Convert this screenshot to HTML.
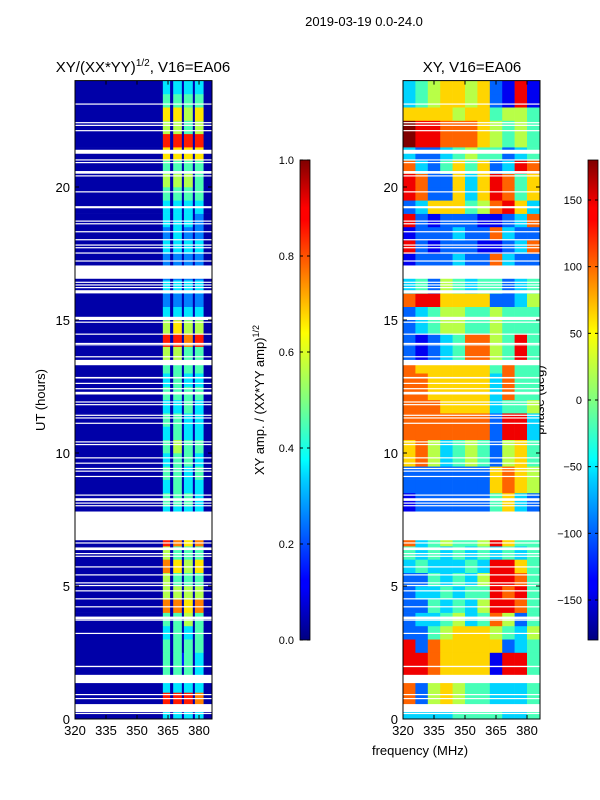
<!DOCTYPE html>
<html><head><meta charset="utf-8"><style>
body{margin:0;background:#fff;}
svg{display:block;font-family:"Liberation Sans","DejaVu Sans",sans-serif;}
</style></head><body>
<svg id="fig" width="600" height="800" viewBox="0 0 600 800">
<defs>
<linearGradient id="jet" x1="0" y1="1" x2="0" y2="0">
<stop offset="0" stop-color="#000080"/><stop offset="0.11" stop-color="#0000ff"/>
<stop offset="0.125" stop-color="#0000ff"/><stop offset="0.34" stop-color="#00d4ff"/>
<stop offset="0.375" stop-color="#00ffff"/><stop offset="0.5" stop-color="#80ff80"/>
<stop offset="0.64" stop-color="#ffff00"/><stop offset="0.875" stop-color="#ff0000"/>
<stop offset="0.9" stop-color="#ff0000"/><stop offset="1" stop-color="#800000"/>
</linearGradient>
</defs>
<text x="364" y="26" font-size="13" text-anchor="middle">2019-03-19 0.0-24.0</text>
<text x="143" y="72" font-size="15" text-anchor="middle">XY/(XX*YY)<tspan font-size="10" dy="-6">1/2</tspan><tspan dy="6">, V16=EA06</tspan></text>
<text x="472" y="72" font-size="15" text-anchor="middle">XY, V16=EA06</text>
<text transform="translate(45,400) rotate(-90)" font-size="13" text-anchor="middle">UT (hours)</text>
<text x="420" y="755" font-size="13" text-anchor="middle">frequency (MHz)</text>
<text transform="translate(264,400) rotate(-90)" font-size="13" text-anchor="middle">XY amp. / (XX*YY amp)<tspan font-size="9" dy="-5">1/2</tspan></text>
<text transform="translate(544,400) rotate(-90)" font-size="13" text-anchor="middle">phase (deg)</text>
<g id="layer"></g>
</svg>
<script>
// ---- data ----
const timeBinHours = 0.5;
const ampFreqEdges = [320, 362.5, 366, 367.5, 371.7, 372.7, 377, 378, 382.2, 386.3];
const phaseFreqEdges = [320, 326, 332, 338, 344, 350, 356, 362, 368, 374, 380, 386.3];
// amplitude rows (0h upward), digit d -> value d/10-0.05
const ampRows = [
"041414140","091919180","041414140","051515140","051525140","051515150","041514150","051516150",
"081817180","061616160","061515150","081716170","061515150","091817180","000000000","041414140",
"051515140","041514140","051514150","041515140","051615150","041514140","051514140","041415140",
"051515150","041514140","051515150","061615150","091918190","061716160","041414140","031313130",
"041414140","031313130","031313130","041414140","031413130","041414130","041414140","051515150",
"061616150","051515150","071717170","091919190","061615160","071716170","051515150","041414140"];
// phase rows, digit d -> d*40-180 deg
const phaseRows = [
"33334444334","72565443334","72565443334","88766661884","88766661884","82766666234","22456665435","23345347524",
"22434358874","23343448784","22434358874","34333438864","43434343434","73454458644","22222222222","12222224632",
"12222224632","22222226765","22222226765","67534542564","67534542564","77777772883","77777772883","77766663445",
"77666663744","77666663744","76666664744","21234775484","21234775484","23455445444","23455445444","78866662235",
"34254344234","34254344234","12223227322","82122211237","12223227322","82122211237","23666457863","87226368746",
"87226368746","73246462387","32234544234","98877765454","98877765454","66665664554","34566562181","34566562181"];
// flagged (blank) intervals in hours
const flagStart = [0.2,0.26,0.75,0.9,1.35,1.95,3.2,3.7,3.75,4.2,4.5,4.8,5.0,5.1,5.4,5.7,6.1,6.2,6.35,6.6,6.72,8.0,8.1,8.2,8.4,9.1,9.3,9.4,9.6,9.8,10.3,10.4,11.1,11.3,11.4,11.8,11.9,12.2,12.4,12.6,12.8,13.3,13.6,14.05,14.1,14.45,14.9,15.0,16.0,16.2,16.3,16.4,16.55,17.2,17.5,17.7,17.8,18.0,18.3,18.6,18.7,19.2,19.8,20.4,20.5,20.9,21.0,21.25,22.1,22.3,22.4,23.1];
const flagEnd   = [0.23,0.56,0.79,0.94,1.66,2.0,3.24,3.74,3.85,4.24,4.54,4.84,5.04,5.14,5.44,5.74,6.14,6.24,6.45,6.64,7.8,8.04,8.14,8.3,8.44,9.14,9.34,9.44,9.64,9.84,10.34,10.44,11.14,11.34,11.44,11.84,11.94,12.3,12.44,12.64,12.86,13.5,13.64,14.09,14.14,14.49,14.94,15.12,16.12,16.24,16.34,16.44,17.05,17.24,17.54,17.74,17.84,18.04,18.34,18.64,18.74,19.28,19.84,20.44,20.6,20.94,21.04,21.4,22.14,22.34,22.44,23.14];
const yTicks = [0,5,10,15,20];
const xTicks = [320,335,350,365,380];
const ampCbTicks = [0.0,0.2,0.4,0.6,0.8,1.0];
const phaseCbTicks = [-150,-100,-50,0,50,100,150];

// ---- scales ----
const NS='http://www.w3.org/2000/svg';
const layer=document.getElementById('layer');
const Y0=719, PXH=26.6;
const yS=t=>Y0-t*PXH;
const FMIN=320, PXF=2.067;
const panels=[{x0:75,name:'amp'},{x0:403,name:'phase'}];
const xS=(p,f)=>p.x0+(f-FMIN)*PXF;
function jet(v){v=Math.max(0,Math.min(1,v));
 const c=x=>Math.round(255*Math.max(0,Math.min(1,1.5-Math.abs(x))));
 return `rgb(${c(4*v-3)},${c(4*v-2)},${c(4*v-1)})`;}
function mk(tag,attrs,parent){const e=document.createElementNS(NS,tag);for(const k in attrs)e.setAttribute(k,attrs[k]);(parent||layer).appendChild(e);return e;}

// amplitude heatmap
ampRows.forEach((row,i)=>{
 for(let j=0;j<row.length;j++){
  const v=Math.max(0.04,+row[j]/10-0.05);
  const x=xS(panels[0],ampFreqEdges[j]),x2=xS(panels[0],ampFreqEdges[j+1]);
  const r=mk('rect',{x:x,y:yS((i+1)*timeBinHours),width:x2-x+0.3,height:timeBinHours*PXH+0.3,fill:jet(v)});
  
  
 }});
// phase heatmap
phaseRows.forEach((row,i)=>{
 for(let j=0;j<row.length;j++){
  const ph=+row[j]*40-180;
  const x=xS(panels[1],phaseFreqEdges[j]),x2=xS(panels[1],phaseFreqEdges[j+1]);
  const r=mk('rect',{x:x,y:yS((i+1)*timeBinHours),width:x2-x+0.3,height:timeBinHours*PXH+0.3,fill:jet((ph+180)/360)});
  
  
 }});
// flags
panels.forEach(p=>{
 flagStart.forEach((s,k)=>{
  const r=mk('rect',{x:p.x0,y:yS(flagEnd[k]),width:137,height:Math.max(1.2,(flagEnd[k]-s)*PXH),fill:'#fff'});
  
  
 });
});
// axes frames & ticks
panels.forEach(p=>{
 const f=mk('rect',{x:p.x0,y:yS(24),width:137,height:Y0-yS(24),fill:'none',stroke:'#000','stroke-width':1});
 
 
 yTicks.forEach(t=>{
  const y=yS(t);
  mk('line',{x1:p.x0,x2:p.x0+4,y1:y,y2:y,stroke:'#000'});
  mk('line',{x1:p.x0+137,x2:p.x0+133,y1:y,y2:y,stroke:'#000'});
  const tx=mk('text',{x:p.x0-5,y:y+5,'font-size':13,'text-anchor':'end'});
  tx.textContent=t;
  
  
 });
 xTicks.forEach(v=>{
  const x=xS(p,v);
  mk('line',{x1:x,x2:x,y1:Y0,y2:Y0-4,stroke:'#000'});
  mk('line',{x1:x,x2:x,y1:yS(24),y2:yS(24)+4,stroke:'#000'});
  const tx=mk('text',{x:x,y:Y0+16,'font-size':13,'text-anchor':'middle'});
  tx.textContent=v;
  
  
 });
});
// colorbars
const cbs=[{x:300,name:'amp',ticks:ampCbTicks,lo:0,hi:1,fmt:v=>v.toFixed(1)},
           {x:588,name:'phase',ticks:phaseCbTicks,lo:-180,hi:180,fmt:v=>v<0?'\u2212'+(-v):''+v}];
cbs.forEach(c=>{
 const r=mk('rect',{x:c.x,y:160,width:10,height:480,fill:'url(#jet)',stroke:'#000','stroke-width':0.8});
 
 
 c.ticks.forEach(v=>{
  const y=640-(v-c.lo)/(c.hi-c.lo)*480;
  mk('line',{x1:c.x,x2:c.x+3,y1:y,y2:y,stroke:'#000'});
  mk('line',{x1:c.x+10,x2:c.x+7,y1:y,y2:y,stroke:'#000'});
  const tx=mk('text',{x:c.x-6,y:y+4,'font-size':11,'text-anchor':'end'});
  tx.textContent=c.fmt(v);
  
  
 });
});
</script>
</body></html>
